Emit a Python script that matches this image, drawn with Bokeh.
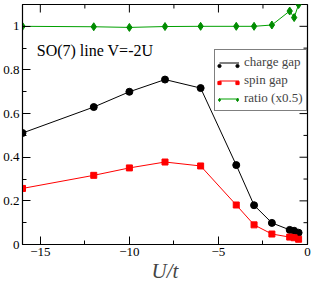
from bokeh.plotting import figure
from bokeh.models import Range1d, FixedTicker, Label, Legend, LegendItem
from bokeh.embed import file_html
from bokeh.resources import INLINE

U = [-16, -12, -10, -8, -6, -4, -3, -2, -1, -0.75, -0.5]
charge_gap = [0.511, 0.63, 0.70, 0.756, 0.717, 0.364, 0.18, 0.099, 0.067, 0.063, 0.054]
spin_gap = [0.257, 0.317, 0.351, 0.378, 0.36, 0.181, 0.09, 0.048, 0.034, 0.031, 0.024]
ratio = [1.0, 0.998, 0.995, 0.999, 1.0, 1.0, 1.0, 1.006, 1.07, 1.04, 1.10]

x_major = [-15, -10, -5, 0]
x_minor = [-12.5, -7.5, -2.5]
y_major = [0, 0.2, 0.4, 0.6, 0.8, 1.0]
y_minor = [0.1, 0.3, 0.5, 0.7, 0.9]
series_labels = ["charge gap", "spin gap", "ratio (x0.5)"]
X_LO, X_HI = -16, 0
Y_LO, Y_HI = 0, 1.1

FONT = "Liberation Serif"
FW, FH = 285, 240

p = figure(frame_width=FW, frame_height=FH, output_backend="svg", toolbar_location=None,
           x_range=Range1d(X_LO, X_HI), y_range=Range1d(Y_LO, Y_HI),
           min_border_left=22, min_border_right=9, min_border_top=4, min_border_bottom=0)
p.grid.visible = False
p.outline_line_color = "black"
p.outline_line_width = 1.2
p.background_fill_color = "white"

for ax in (p.xaxis[0], p.yaxis[0]):
    ax.major_tick_in = 8
    ax.major_tick_out = 0
    ax.minor_tick_in = 4
    ax.minor_tick_out = 0
    ax.axis_line_color = "black"
    ax.major_tick_line_color = "black"
    ax.minor_tick_line_color = "black"
    ax.major_label_text_font = FONT
    ax.major_label_text_font_size = "13px"
    ax.major_label_text_color = "black"
    ax.major_label_standoff = 3

p.xaxis.ticker = FixedTicker(ticks=x_major, minor_ticks=x_minor)
p.yaxis.ticker = FixedTicker(ticks=y_major, minor_ticks=y_minor)
p.yaxis.major_label_overrides = {0: "0", 1: "1"}
p.xaxis.major_label_overrides = {0: "0"}
p.xaxis.axis_label = "U/t"
p.xaxis.axis_label_text_font = FONT
p.xaxis.axis_label_text_font_style = "italic"
p.xaxis.axis_label_text_font_size = "21px"
p.xaxis.axis_label_standoff = 0

# mirrored inward ticks on the top and right edges
px_x = (X_HI - X_LO) / FW
px_y = (Y_HI - Y_LO) / FH
for ticks, n in ((x_major, 8), (x_minor, 4)):
    p.segment(x0=ticks, y0=[Y_HI] * len(ticks), x1=ticks, y1=[Y_HI - n * px_y] * len(ticks),
              line_color="black", line_width=1)
for ticks, n in ((y_major, 8), (y_minor, 4)):
    p.segment(x0=[X_HI] * len(ticks), y0=ticks, x1=[X_HI - n * px_x] * len(ticks), y1=ticks,
              line_color="black", line_width=1)

l1 = p.line(U, charge_gap, line_color="black", line_width=1)
s1 = p.scatter(U, charge_gap, marker="circle", size=7, color="black")
l2 = p.line(U, spin_gap, line_color="red", line_width=1)
s2 = p.scatter(U, spin_gap, marker="square", size=6, color="red")
l3 = p.line(U, ratio, line_color="#00a000", line_width=1)
s3 = p.scatter(U, ratio, marker="diamond", size=8, color="#008c00")

LX, LY = 192, 133
common = dict(label_text_font=FONT, label_text_font_size="13px", padding=4, spacing=2,
              margin=0, label_height=15, glyph_height=15, label_standoff=5)

main = Legend(items=[LegendItem(label=t, renderers=[r]) for t, r in zip(series_labels, [l1, l2, l3])],
              glyph_width=20, border_line_color="black", border_line_width=1.5,
              background_fill_color="white", background_fill_alpha=1, **common)
p.add_layout(main, "center")
main.location = (LX, LY)

for dx in (-3, 15):
    mk = Legend(items=[LegendItem(label=" ", renderers=[r]) for r in [s1, s2, s3]],
                glyph_width=8, border_line_alpha=0, background_fill_alpha=0,
                label_text_alpha=0, **common)
    p.add_layout(mk, "center")
    mk.location = (LX + dx, LY)

p.add_layout(Label(x=-15.2, y=0.89, text="SO(7) line V=-2U", text_font=FONT,
                   text_font_size="16px", text_baseline="middle", text_color="black"))

open("out.html", "w").write(file_html(p, INLINE))
